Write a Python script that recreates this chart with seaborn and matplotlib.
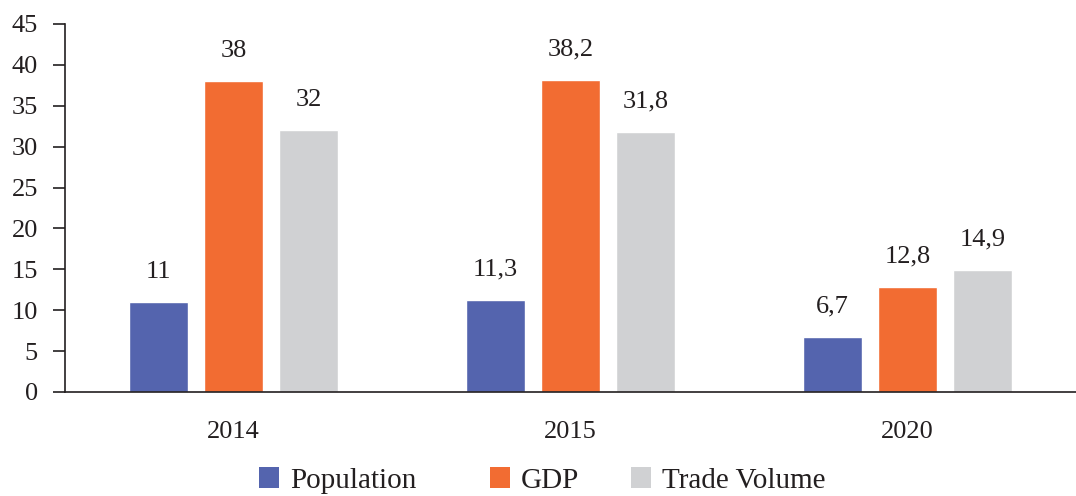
import matplotlib
matplotlib.use("Agg")
import matplotlib.pyplot as plt
import seaborn as sns
import pandas as pd
from matplotlib.patches import Patch

years = ["2014", "2015", "2020"]
population = [11, 11.3, 6.7]
gdp = [38, 38.2, 12.8]
trade_volume = [32, 31.8, 14.9]
series_names = ["Population", "GDP", "Trade Volume"]
colors = ["#5464ae", "#f26c32", "#d0d1d3"]

df = pd.DataFrame({
    "year": years * 3,
    "value": population + gdp + trade_volume,
    "series": [s for s in series_names for _ in years],
})

sns.set_theme(style="white")
plt.rcParams["font.family"] = ["Liberation Serif", "DejaVu Serif"]

text_color = "#231f20"
fs = 19

fig = plt.figure(figsize=(10.76, 4.96), dpi=100)
ax = fig.add_axes([0.0604, 0.2097, 0.9396, 0.742])

sns.barplot(data=df, x="year", y="value", hue="series", order=years,
            hue_order=series_names, palette=colors, width=0.667, gap=0.21,
            saturation=1, legend=False, ax=ax)

for container in ax.containers:
    labels = [f"{v:g}".replace(".", ",") for v in container.datavalues]
    ax.bar_label(container, labels=labels, padding=14, fontsize=fs,
                 color=text_color)

ax.set_ylim(0, 45)
ax.set_yticks(range(0, 46, 5))
ax.set_xlim(-0.5, 2.5)
ax.set_xlabel("")
ax.set_ylabel("")
for side in ["top", "right"]:
    ax.spines[side].set_visible(False)
for side in ["left", "bottom"]:
    ax.spines[side].set_color(text_color)
    ax.spines[side].set_linewidth(1.2)
ax.tick_params(axis="y", left=True, length=8.5, width=1.2, color=text_color,
               labelsize=fs, labelcolor=text_color, pad=11)
ax.tick_params(axis="x", bottom=False, labelsize=fs, labelcolor=text_color, pad=15)

# legend entries placed individually along the bottom
legend_x = [0.2407, 0.4554, 0.5864]
for name, col, x in zip(series_names, colors, legend_x):
    fig.legend([Patch(facecolor=col, edgecolor="none")], [name],
               loc="center left", bbox_to_anchor=(x, 0.031),
               frameon=False, fontsize=21, handlelength=0.69,
               handleheight=0.69, handletextpad=0.38,
               borderpad=0, borderaxespad=0, labelcolor=text_color)

fig.savefig("out.png", dpi=100)
